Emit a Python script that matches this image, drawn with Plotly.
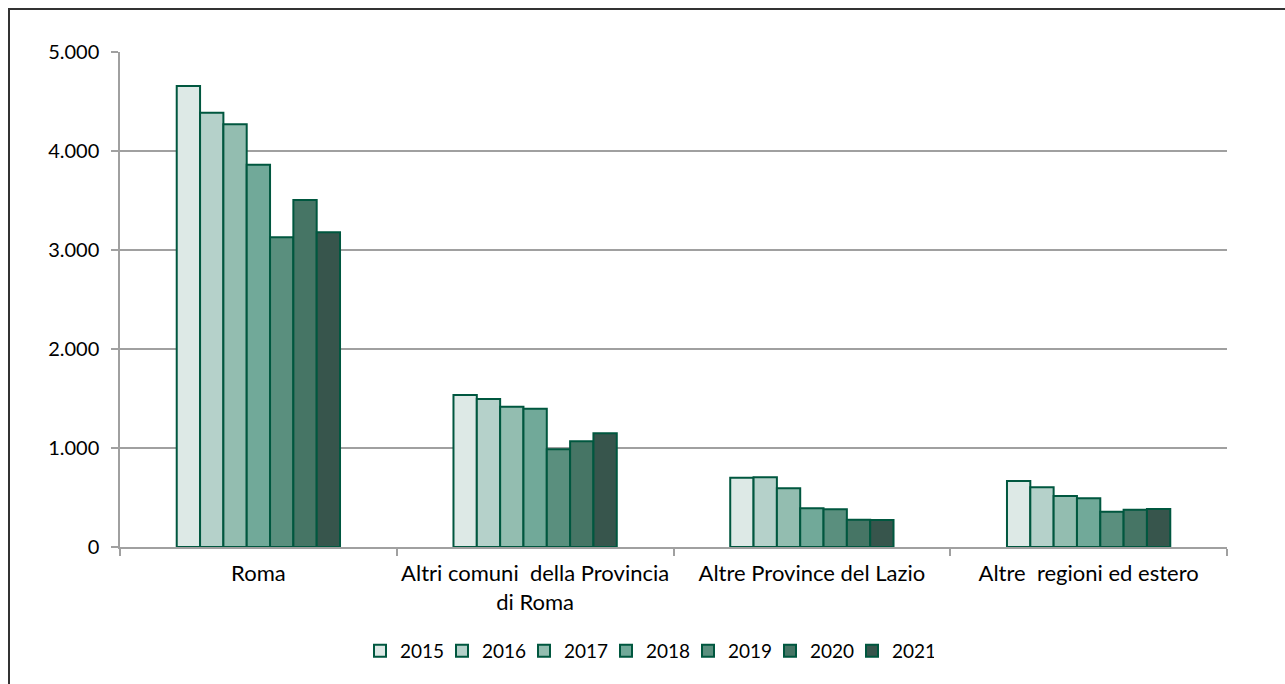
import plotly.graph_objects as go

categories = ["Roma", "Altri comuni  della Provincia<br>di Roma", "Altre Province del Lazio", "Altre  regioni ed estero"]
years = ["2015", "2016", "2017", "2018", "2019", "2020", "2021"]
values = {
    "2015": [4657, 1535, 700, 667],
    "2016": [4387, 1495, 704, 603],
    "2017": [4270, 1417, 593, 515],
    "2018": [3862, 1397, 391, 492],
    "2019": [3128, 987, 381, 357],
    "2020": [3505, 1067, 276, 377],
    "2021": [3179, 1148, 273, 384],
}
colors = ["#DDE9E6", "#B5D1CA", "#93BDB0", "#71A999", "#5A8F7E", "#467565", "#37554C"]
y_ticks = [0, 1000, 2000, 3000, 4000, 5000]

FONT = "Lato"
W, H = 1285, 684
L, R, T, B = 120, 58, 52, 137

fig = go.Figure()
for yr, col in zip(years, colors):
    fig.add_trace(go.Bar(
        x=categories, y=values[yr], name=yr,
        marker=dict(color=col, line=dict(color="#00573F", width=2)),
    ))

pw, ph = W - L - R, H - T - B
def px_x(p):
    return (p - L) / pw
def px_y(p):
    return (H - B - p) / ph

fig.update_layout(
    width=W, height=H,
    margin=dict(l=L, r=R, t=T, b=B, pad=0, autoexpand=False),
    paper_bgcolor="white", plot_bgcolor="white",
    barmode="group", bargap=0.41, bargroupgap=0,
    separators=",.",
    font=dict(family=FONT, size=19, color="#000000"),
    showlegend=True,
    legend=dict(orientation="h", x=px_x(360), xanchor="left", y=px_y(651), yanchor="middle",
                font=dict(family=FONT, size=19, color="#000000"),
                itemwidth=30, entrywidth=37, entrywidthmode="pixels",
                traceorder="normal", bgcolor="rgba(0,0,0,0)"),
    xaxis=dict(showgrid=False, showline=True, linecolor="#A0A0A0", linewidth=1.5,
               ticks="outside", tickson="boundaries", ticklen=7, tickcolor="#A0A0A0",
               tickwidth=1.5, tickfont=dict(family=FONT, size=22, color="#000000"),
               tickangle=0, automargin=False,
               ticklabelstandoff=6, fixedrange=True),
    yaxis=dict(range=[0, 5000], tickvals=y_ticks, tickformat=",d",
               showgrid=True, gridcolor="#A0A0A0", gridwidth=1.5,
               showline=True, linecolor="#A0A0A0", linewidth=1.5,
               ticks="outside", ticklen=7, tickcolor="#A0A0A0", tickwidth=1.5,
               tickfont=dict(family=FONT, size=20, color="#000000"),
               automargin=False,
               ticklabelstandoff=8, zeroline=False, fixedrange=True),
    shapes=[dict(type="rect", xref="paper", yref="paper",
                 x0=px_x(9), x1=px_x(1300), y0=px_y(700), y1=px_y(9),
                 line=dict(color="#333333", width=2), fillcolor="rgba(0,0,0,0)", layer="below")],
)

fig.write_html("out.html", config={"displayModeBar": False},
               post_script="document.body.style.margin='0';document.body.style.overflow='hidden';")
